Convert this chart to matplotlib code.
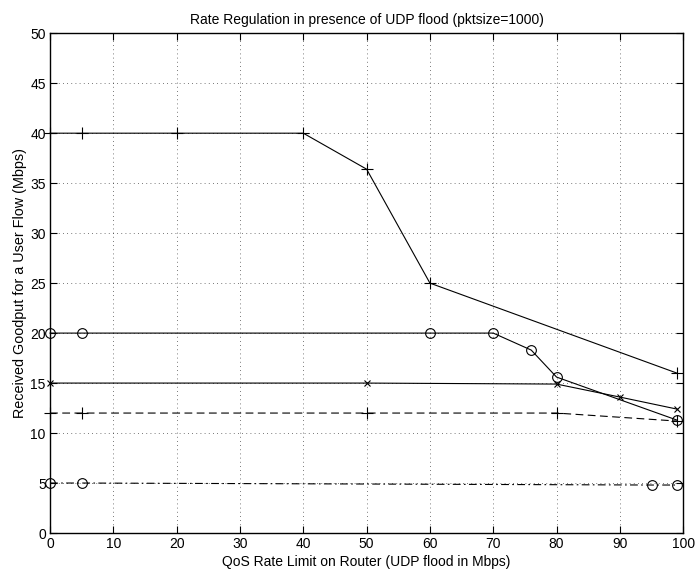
import matplotlib
matplotlib.use("Agg")
import matplotlib.pyplot as plt

plt.rcParams['font.family'] = ['Liberation Sans', 'DejaVu Sans']

# Received goodput per flow configuration
x_plus40 = [0, 5, 20, 40, 50, 60, 99]
y_plus40 = [40, 40, 40, 40, 36.4, 25, 16]

x_circ20 = [0, 5, 60, 70, 76, 80, 99]
y_circ20 = [20, 20, 20, 20, 18.3, 15.6, 11.3]

x_x15 = [0, 50, 80, 90, 99]
y_x15 = [15, 15, 14.9, 13.6, 12.4]

x_plus12 = [0, 5, 50, 80, 99]
y_plus12 = [12, 12, 12, 12, 11.2]

x_circ5 = [0, 5, 95, 99]
y_circ5 = [5, 5, 4.8, 4.8]

x_ticks = list(range(0, 101, 10))
y_ticks = list(range(0, 51, 5))

fig = plt.figure(figsize=(6.95, 5.73), dpi=100)
ax = fig.add_axes([0.072, 0.0698, 0.911, 0.8722])

lw = 0.8
kw = dict(color='black', linewidth=lw, clip_on=False, markeredgewidth=0.8)
ax.plot(x_plus40, y_plus40, '-', marker='+', markersize=8, **kw)
ax.plot(x_circ20, y_circ20, '-', marker='o', markersize=7, markerfacecolor='none', **kw)
ax.plot(x_x15, y_x15, '-', marker='x', markersize=5, **kw)
ax.plot(x_plus12, y_plus12, linestyle=(0, (7, 4)), marker='+', markersize=8, **kw)
ax.plot(x_circ5, y_circ5, linestyle=(0, (7, 3, 1.5, 3)), marker='o', markersize=7,
        markerfacecolor='none', **kw)

ax.set_xlim(0, 100)
ax.set_ylim(0, 50)
ax.set_xticks(x_ticks)
ax.set_yticks(y_ticks)
ax.tick_params(direction='in', top=True, right=True, length=5, width=0.8,
               labelsize=10, pad=3)
for s in ax.spines.values():
    s.set_linewidth(1.0)
ax.grid(True, linestyle=(0, (1, 4)), color='black', linewidth=0.6, alpha=0.7)

ax.set_title('Rate Regulation in presence of UDP flood (pktsize=1000)', fontsize=10, pad=7)
ax.set_xlabel('QoS Rate Limit on Router (UDP flood in Mbps)', fontsize=10, labelpad=3)
ax.set_ylabel('Received Goodput for a User Flow (Mbps)', fontsize=10.4, labelpad=2)

fig.savefig('out.png', dpi=100)
